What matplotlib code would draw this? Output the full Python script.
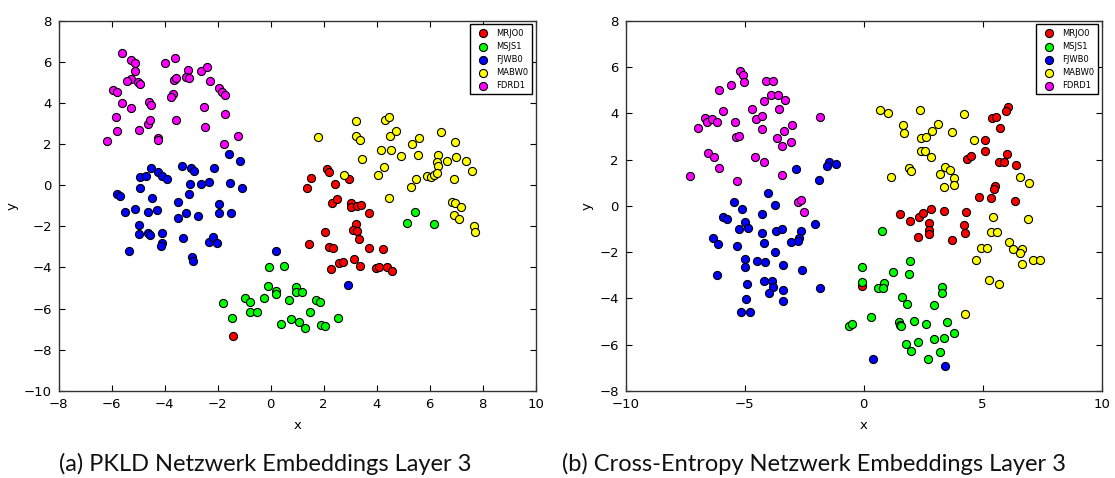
import matplotlib
matplotlib.use('Agg')
import matplotlib.pyplot as plt

speakers = ['MRJO0', 'MSJS1', 'FJWB0', 'MABW0', 'FDRD1']
colours = ['#ff0000', '#00ff00', '#0000ff', '#ffff00', '#ff00ff']

# (a) PKLD embeddings
a_x = {
    'MRJO0': [2.11, 2.19, 1.53, 1.36, 2.43, 2.97, 2.31, 2.50, 3.02, 3.04, 3.27, 3.41, 3.69, 3.20, 3.11, 3.27, 3.33,
              2.03, 1.46, 2.19, 2.35, 3.69, 4.23, 2.59, 2.73, 3.16, 3.37, 2.29, 3.99, 4.10, 4.37, 4.57, -1.43],
    'MSJS1': [-0.08, 0.49, -0.10, 0.20, 0.18, -0.25, -0.97, -0.78, -1.80, -0.79, -0.52, -1.46, 0.69, 0.96, 0.94,
              1.18, 0.37, 0.77, 1.06, 1.31, 1.48, 1.70, 1.86, 1.91, 2.03, 2.53, 5.14, 5.46, 6.16],
    'FJWB0': [-1.56, -1.16, -4.54, -4.26, -4.09, -3.91, -4.93, -4.70, -3.36, -3.01, -2.91, -2.14, -3.05, -2.62,
              -2.35, -1.54, -1.07, -4.95, -5.79, -5.69, -4.50, -3.08, -3.50, -1.97, -5.52, -5.14, -4.65, -4.30,
              -3.19, -3.52, -2.74, -1.94, -1.51, -4.99, -4.99, -4.65, -4.55, -4.09, -4.09, -4.16, -3.31, -2.35,
              -2.18, -2.04, -2.96, -2.93, -5.37, 0.18, 2.91],
    'MABW0': [3.20, 4.33, 4.47, 1.77, 3.22, 3.37, 4.50, 4.73, 5.60, 5.33, 6.42, 6.96, 4.18, 4.53, 4.93, 5.57, 6.30,
              3.46, 4.28, 4.04, 2.78, 6.28, 6.33, 6.64, 6.99, 7.37, 7.61, 5.89, 6.06, 6.16, 6.29, 5.48, 6.93, 5.28,
              4.47, 6.86, 6.97, 7.18, 6.93, 7.09, 7.66, 7.72],
    'FDRD1': [-5.63, -5.29, -5.11, -5.14, -5.28, -5.41, -5.03, -4.95, -5.96, -5.81, -5.61, -5.28, -4.60, -4.53,
              -5.84, -5.79, -6.19, -4.97, -4.65, -4.57, -4.25, -4.24, -3.99, -3.63, -3.65, -3.57, -3.69, -3.76,
              -3.57, -3.14, -3.19, -3.08, -2.63, -2.42, -2.28, -2.53, -2.48, -1.95, -1.86, -1.72, -1.72, -1.25,
              -1.75],
}
a_y = {
    'MRJO0': [0.79, 0.66, 0.34, -0.12, 0.08, 0.29, -0.86, -0.67, -0.86, -1.04, -1.01, -0.96, -1.35, -1.87, -2.18,
              -2.24, -2.61, -2.27, -2.87, -3.00, -3.07, -3.04, -3.11, -3.78, -3.75, -3.59, -3.94, -4.07, -4.01,
              -3.98, -3.98, -4.16, -7.34],
    'MSJS1': [-3.98, -3.94, -4.92, -5.15, -5.29, -5.47, -5.50, -5.70, -5.73, -6.15, -6.18, -6.48, -5.58, -4.95,
              -5.18, -5.18, -6.74, -6.51, -6.67, -6.96, -6.18, -5.58, -5.70, -6.82, -6.87, -6.44, -1.83, -1.31,
              -1.87],
    'FJWB0': [1.51, 1.20, 0.83, 0.63, 0.45, 0.31, 0.39, 0.45, 0.94, 0.86, 0.71, 0.83, 0.08, 0.08, 0.15, 0.11,
              -0.12, -0.12, -0.44, -0.52, -0.60, -0.41, -0.83, -0.92, -1.31, -1.15, -1.28, -1.20, -1.35, -1.61,
              -1.49, -1.35, -1.35, -1.92, -2.39, -2.32, -2.40, -2.32, -2.82, -2.97, -2.55, -2.77, -2.52, -2.82,
              -3.49, -3.67, -3.21, -3.18, -4.84],
    'MABW0': [3.12, 3.20, 3.34, 2.37, 2.42, 2.22, 2.40, 2.66, 2.30, 2.00, 2.58, 2.11, 1.72, 1.72, 1.43, 1.48, 1.48,
              1.28, 0.91, 0.50, 0.50, 1.12, 0.95, 1.20, 1.36, 1.17, 0.71, 0.47, 0.41, 0.50, 0.60, 0.31, 0.31, -0.07,
              -0.60, -0.80, -0.88, -1.04, -1.46, -1.66, -2.00, -2.29],
    'FDRD1': [6.46, 6.09, 5.97, 5.55, 5.19, 5.08, 5.05, 4.92, 4.66, 4.54, 4.01, 3.76, 4.06, 3.93, 3.34, 2.63, 2.14,
              2.68, 2.97, 3.17, 2.29, 2.21, 5.97, 6.18, 5.13, 5.21, 4.46, 4.28, 3.19, 5.63, 5.29, 5.24, 5.55, 5.78,
              5.06, 3.80, 2.82, 4.74, 4.54, 4.41, 3.46, 2.40, 2.03],
}

# (b) cross-entropy embeddings
b_x = {
    'MRJO0': [1.51, 1.93, 2.34, 2.51, 2.85, 3.39, 2.73, 2.76, 2.76, 2.28, 3.71, 4.30, 4.23, 4.26, 4.85, 5.37, 6.37,
              -0.05, 6.08, 5.97, 5.40, 5.58, 5.75, 5.10, 5.12, 6.04, 5.71, 5.92, 6.39, 4.33, 4.50, 5.52, 5.47],
    'MSJS1': [-0.60, -0.48, -0.08, -0.08, 0.79, 1.97, 1.24, 1.89, 0.85, 0.60, 0.82, 3.28, 3.28, 1.63, 1.83, 2.97,
              0.29, 1.48, 1.52, 1.59, 2.13, 2.64, 3.50, 3.81, 3.36, 2.94, 1.78, 2.27, 1.99, 3.22, 2.70],
    'FJWB0': [-2.83, -1.89, -1.45, -1.55, -1.17, -4.03, -5.44, -3.71, -5.10, -5.90, -5.76, -4.26, -5.00, -5.23,
              -4.85, -4.26, -3.68, -3.42, -2.03, -2.63, -2.70, -2.77, -3.07, -4.20, -6.34, -6.11, -5.31, -3.71,
              -5.00, -5.00, -4.50, -4.15, -3.39, -2.60, -6.17, -4.92, -4.20, -3.85, -3.80, -3.99, -3.39, -3.39,
              -1.83, -4.95, -5.15, -4.78, 0.40, 3.42],
    'MABW0': [5.44, 6.90, 5.37, 5.62, 6.11, 6.29, 6.65, 6.58, 6.65, 4.93, 5.20, 4.74, 7.14, 7.40, 5.27, 5.69, 4.26,
              0.69, 1.02, 2.35, 4.20, 1.66, 1.69, 3.11, 2.87, 2.43, 2.62, 3.71, 4.62, 2.41, 2.59, 2.84, 1.16, 1.89,
              2.00, 3.44, 3.64, 3.22, 3.82, 3.81, 3.39, 6.58, 6.96],
    'FDRD1': [-5.19, -5.09, -5.02, -4.11, -3.81, -6.08, -5.59, -3.89, -3.61, -3.32, -4.20, -4.69, -3.55, -5.92,
              -6.67, -6.58, -6.38, -6.17, -6.96, -5.40, -4.53, -4.26, -4.26, -3.34, -3.00, -3.64, -3.44, -3.07,
              -5.36, -5.24, -1.83, -6.53, -6.27, -6.08, -4.56, -4.20, -7.31, -5.34, -3.42, -2.77, -2.63, -2.51],
}
b_y = {
    'MRJO0': [-0.34, -0.67, -0.48, -0.31, -0.14, -0.24, -0.73, -1.05, -1.23, -1.34, -1.48, -0.28, -0.83, -1.18,
              0.39, 0.32, 0.22, -3.46, 4.29, 4.09, 3.80, 3.86, 3.35, 2.86, 2.36, 2.26, 1.88, 1.91, 1.77, 2.03, 2.14,
              0.86, 0.71],
    'MSJS1': [-5.20, -5.13, -2.65, -3.31, -1.08, -2.40, -2.87, -2.95, -3.34, -3.56, -3.56, -3.50, -3.75, -3.95,
              -4.25, -4.28, -4.83, -5.02, -5.16, -5.22, -5.00, -5.12, -5.02, -5.52, -5.71, -5.78, -5.98, -5.88,
              -6.29, -6.34, -6.62],
    'FJWB0': [1.59, 1.12, 1.91, 1.72, 1.80, 0.55, 0.18, 0.05, -0.15, -0.47, -0.58, -0.37, -0.71, -1.02, -0.97,
              -1.18, -1.10, -1.02, -0.77, -1.08, -1.38, -1.51, -1.58, -1.61, -1.38, -1.65, -1.74, -1.99, -2.29,
              -2.65, -2.38, -2.42, -2.58, -2.78, -2.98, -3.39, -3.24, -3.24, -3.53, -3.78, -3.65, -4.12, -3.57,
              -4.05, -4.58, -4.61, -6.62, -6.91],
    'MABW0': [-0.47, -0.57, -1.11, -1.15, -1.58, -1.88, -1.87, -2.06, -2.51, -1.84, -1.84, -2.35, -2.35, -2.35,
              -3.21, -3.36, -4.68, 4.16, 4.02, 4.13, 3.96, 3.48, 3.15, 3.56, 3.24, 2.95, 2.97, 3.19, 2.85, 2.36,
              2.39, 2.13, 1.23, 1.64, 1.51, 1.67, 1.55, 1.39, 1.22, 0.90, 0.83, 1.23, 0.99],
    'FDRD1': [5.84, 5.66, 5.35, 5.42, 5.42, 5.01, 5.22, 4.78, 4.78, 4.58, 4.52, 4.18, 4.19, 4.12, 3.79, 3.64, 3.74,
              3.64, 3.38, 3.61, 3.76, 3.89, 3.31, 3.25, 3.51, 2.92, 2.59, 2.75, 2.99, 3.02, 3.86, 2.27, 2.13, 1.62,
              2.13, 1.88, 1.28, 1.09, 1.32, 0.18, 0.25, -0.28],
}

a_xticks = [-8, -6, -4, -2, 0, 2, 4, 6, 8, 10]
a_yticks = [-10, -8, -6, -4, -2, 0, 2, 4, 6, 8]
b_xticks = [-10, -5, 0, 5, 10]
b_yticks = [-8, -6, -4, -2, 0, 2, 4, 6, 8]
captions = ['(a) PKLD Netzwerk Embeddings Layer 3', '(b) Cross-Entropy Netzwerk Embeddings Layer 3']

fig = plt.figure(figsize=(11.15, 4.78), dpi=100)
fig.patch.set_facecolor('white')
ax1 = fig.add_axes([0.0528, 0.1826, 0.4276, 0.7734])
ax2 = fig.add_axes([0.5612, 0.1826, 0.4267, 0.7734])

panels = [(ax1, a_x, a_y, a_xticks, a_yticks), (ax2, b_x, b_y, b_xticks, b_yticks)]
for ax, xs, ys, xt, yt in panels:
    for name, col in zip(speakers, colours):
        ax.scatter(xs[name], ys[name], s=34, c=col, edgecolors='black', linewidths=0.8, label=name, zorder=3)
    ax.set_xlim(xt[0], xt[-1])
    ax.set_ylim(yt[0], yt[-1])
    ax.set_xticks(xt)
    ax.set_yticks(yt)
    ax.tick_params(direction='in', top=True, right=True, length=4, width=0.8, labelsize=9.5, pad=5)
    for sp in ax.spines.values():
        sp.set_linewidth(1.0)
        sp.set_color('#333333')
    ax.set_xlabel('x', fontsize=9.5, labelpad=6)
    ax.set_ylabel('y', fontsize=9.5, labelpad=4)
    leg = ax.legend(loc='upper right', scatterpoints=1, fontsize=6, fancybox=False, framealpha=1,
                    borderpad=0.5, labelspacing=0.5, handletextpad=0.6, borderaxespad=0.4)
    leg.get_frame().set_edgecolor('black')
    leg.get_frame().set_linewidth(1.0)

# captions sit under each panel, slightly left of centre as in the paper figure
fig.text(265 / 1115, 0.014, captions[0], ha='center', va='baseline', fontsize=17, family='Lato', color='#111111')
fig.text(814 / 1115, 0.014, captions[1], ha='center', va='baseline', fontsize=17, family='Lato', color='#111111')

fig.savefig('out.png', dpi=100, facecolor='white')
